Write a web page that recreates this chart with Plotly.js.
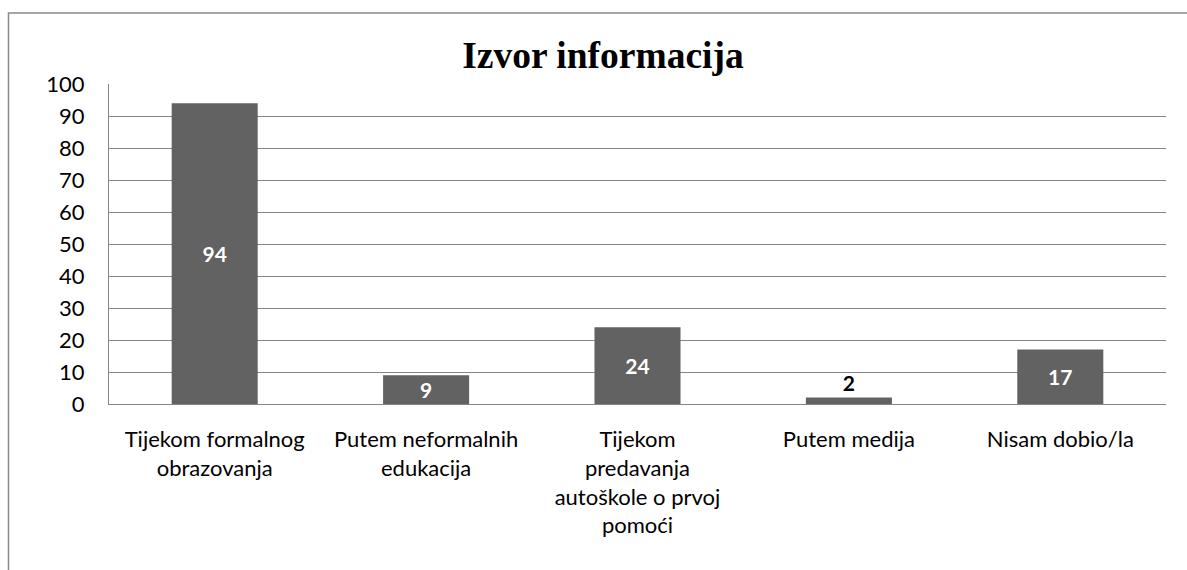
<!DOCTYPE html>
<html>
<head>
<meta charset="utf-8">
<script src="https://cdn.plot.ly/plotly-3.0.1.min.js"></script>
<style>
html, body { margin:0; padding:0; background:#fff; }
#chart { width:1187px; height:570px; }
</style>
</head>
<body>
<div id="chart"></div>
<script>
const categories = [
  "Tijekom formalnog<br>obrazovanja",
  "Putem neformalnih<br>edukacija",
  "Tijekom<br>predavanja<br>autoškole o prvoj<br>pomoći",
  "Putem medija",
  "Nisam dobio/la"
];
const values = [94, 9, 24, 2, 17];
const labelPositions = ["inside", "inside", "inside", "outside", "inside"];
const yTicks = [0, 10, 20, 30, 40, 50, 60, 70, 80, 90, 100];

const trace = {
  type: "bar",
  x: categories,
  y: values,
  text: values.map(String),
  textposition: labelPositions,
  textangle: 0,
  insidetextanchor: "middle",
  constraintext: "none",
  cliponaxis: false,
  textfont: { family: "Lato, sans-serif", size: 21, color: "#000", weight: "bold" },
  insidetextfont: { family: "Lato, sans-serif", size: 21, color: "#ffffff", weight: "bold" },
  outsidetextfont: { family: "Lato, sans-serif", size: 21, color: "#000000", weight: "bold" },
  marker: { color: "#626262", line: { width: 0 } },
  hoverinfo: "x+y"
};

const layout = {
  width: 1187,
  height: 570,
  margin: { l: 109, r: 21, t: 83.5, b: 166 },
  paper_bgcolor: "#ffffff",
  plot_bgcolor: "#ffffff",
  bargap: 0.593,
  showlegend: false,
  font: { family: "Lato, sans-serif", size: 22, color: "#000", weight: "normal" },
  title: {
    text: "<b>Izvor informacija</b>",
    font: { family: "Liberation Serif, Times New Roman, serif", size: 37.5, color: "#000" },
    x: 0.508, xref: "container", xanchor: "center",
    y: 0.9035, yref: "container", yanchor: "middle"
  },
  xaxis: {
    type: "category",
    showgrid: false,
    showline: true,
    linecolor: "#868686",
    linewidth: 1,
    mirror: false,
    ticks: "",
    ticklabelstandoff: 16,
    tickfont: { family: "Lato, sans-serif", size: 22, color: "#000", weight: "normal" },
    fixedrange: true
  },
  yaxis: {
    range: [0, 100],
    tickvals: yTicks,
    ticktext: yTicks.map(String),
    showgrid: true,
    gridcolor: "#868686",
    gridwidth: 1,
    showline: true,
    linecolor: "#868686",
    linewidth: 1,
    mirror: false,
    zeroline: false,
    ticks: "",
    ticklabelstandoff: 19,
    tickfont: { family: "Lato, sans-serif", size: 22, color: "#000", weight: "normal" },
    fixedrange: true
  },
  shapes: [
    {
      type: "rect", xref: "paper", yref: "paper",
      x0: (8.5 - 109) / 1057, x1: 1.05,
      y0: -0.6, y1: (404 - 12.5) / 320.5,
      line: { color: "#898989", width: 1.5 },
      fillcolor: "rgba(0,0,0,0)",
      layer: "below"
    }
  ]
};

Plotly.newPlot("chart", [trace], layout, { displayModeBar: false, staticPlot: true });
</script>
</body>
</html>
